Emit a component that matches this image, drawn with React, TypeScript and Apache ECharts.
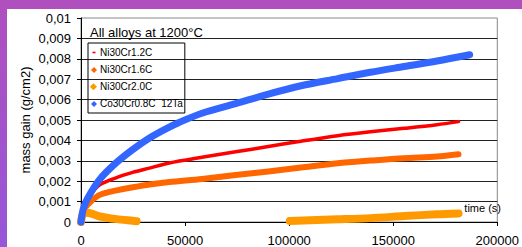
import React, { useEffect, useRef } from 'react';
import * as echarts from 'echarts';

const seriesNames = ['Ni30Cr1.2C', 'Ni30Cr1.6C', 'Ni30Cr2.0C', 'Co30Cr0.8C  12Ta'];
const seriesColors = ['#ff0000', '#ff6600', '#ff9900', '#3366ff'];

const redT = [0, 1500, 4300, 9000, 17100, 24800, 32900, 42400, 58100, 74300, 90000, 105700, 123300, 139000, 155200, 171000, 181400];
const redV = [0, 0.0008, 0.0013, 0.00182, 0.00218, 0.00243, 0.00264, 0.00289, 0.00317, 0.00344, 0.0037, 0.00396, 0.00423, 0.00442, 0.00459, 0.00477, 0.00492];

const orangeT = [0, 950, 4300, 9000, 17100, 24800, 32900, 42400, 58100, 74300, 90000, 105700, 123300, 139000, 155200, 171000, 181400];
const orangeV = [0, 0.00052, 0.00096, 0.00133, 0.00155, 0.0017, 0.00184, 0.00196, 0.00211, 0.0023, 0.00248, 0.00267, 0.00288, 0.00301, 0.00313, 0.00321, 0.00332];

const lightT = [0, 1000, 3000, 9000, 17100, 24800, 26700, 60000, 100300, 123300, 139000, 155200, 171000, 181400];
const lightV: (number | string)[] = [0, 0.0004, 0.00045, 0.00027, 0.00014, 0.00006, 0.00004, '-', 0.00005, 0.00013, 0.00019, 0.00029, 0.00038, 0.00042];

const blueT = [0, 1000, 2900, 9000, 17100, 24800, 32900, 41000, 47100, 58100, 74300, 90000, 105700, 123300, 139000, 155200, 171000, 186700];
const blueV = [0, 0.0006, 0.00111, 0.00209, 0.00292, 0.00355, 0.00412, 0.00458, 0.00488, 0.00533, 0.0058, 0.00627, 0.00668, 0.00703, 0.00734, 0.00762, 0.00789, 0.0082];

const lineWidths = [3.5, 6, 8, 7];
const legendIcons = [
  'path://M0,0M8,8M3.5,3.2h3v1.6h-3z',
  'path://M0,0M8,8M5,1.5L8,4.5L5,7.5L2,4.5z',
  'path://M0,0M8,8M5,0.5L9,4.5L5,8.5L1,4.5z',
  'path://M0,0M8,8M5,1.5L8,4.5L5,7.5L2,4.5z',
];

const xMin = 0, xMax = 200000, xStep = 50000;
const yMin = 0, yMax = 0.01, yStep = 0.001;

const FONT = 'Liberation Sans, Arial, sans-serif';

function pairs(t: number[], v: (number | string)[]) {
  return t.map((x, i) => [x, v[i]]);
}

export default function App() {
  const ref = useRef<HTMLDivElement>(null);
  useEffect(() => {
    const chart = echarts.init(ref.current!, null, { renderer: 'svg' });
    const data = [pairs(redT, redV), pairs(orangeT, orangeV), pairs(lightT, lightV), pairs(blueT, blueV)];
    chart.setOption({
      animation: false,
      backgroundColor: '#ffffff',
      textStyle: { fontFamily: FONT },
      title: {
        text: 'All alloys at 1200°C',
        left: 90,
        top: 26,
        padding: 0,
        textStyle: { fontSize: 13, fontWeight: 'normal', color: '#000', fontFamily: FONT },
      },
      legend: {
        left: 88,
        top: 43,
        orient: 'vertical',
        borderColor: '#000',
        borderWidth: 1,
        padding: [1, 2, 1, 1],
        itemGap: 0,
        itemWidth: 8,
        itemHeight: 8,
        textStyle: { fontSize: 10, color: '#000', fontFamily: FONT, lineHeight: 17, padding: [0, 0, 0, -2] },
        data: seriesNames.map((n, i) => ({ name: n, icon: legendIcons[i], itemStyle: { color: seriesColors[i] } })),
      },
      grid: {
        left: 81,
        top: 18,
        width: 421,
        height: 205,
        show: true,
        borderColor: '#888',
        borderWidth: 1,
        backgroundColor: 'transparent',
      },
      xAxis: {
        type: 'value',
        min: xMin,
        max: xMax,
        interval: xStep,
        axisLine: { lineStyle: { color: '#000', width: 1 } },
        axisTick: { show: true, length: 4, lineStyle: { color: '#000' } },
        axisLabel: { fontSize: 13, color: '#000', margin: 12, fontFamily: FONT, formatter: (v: number) => String(v) },
        splitLine: { show: false },
      },
      yAxis: {
        type: 'value',
        min: yMin,
        max: yMax,
        interval: yStep,
        name: 'mass gain (g/cm2)',
        nameLocation: 'middle',
        nameGap: 49,
        nameMoveOverlap: false,
        nameTextStyle: { fontSize: 13, color: '#000', fontFamily: FONT },
        axisLine: { show: true, lineStyle: { color: '#000', width: 1 } },
        axisTick: { show: true, length: 4, lineStyle: { color: '#000' } },
        axisLabel: {
          fontSize: 13,
          color: '#000',
          margin: 10,
          fontFamily: FONT,
          formatter: (v: number) => (v === 0 ? '0' : String(parseFloat(v.toFixed(3))).replace('.', ',')),
        },
        splitLine: { show: true, showMaxLine: false, lineStyle: { color: '#222', width: 1 } },
      },
      graphic: [
        { type: 'rect', left: 0, top: 0, shape: { width: 522, height: 9 }, style: { fill: '#b04fbe' }, z: 100 },
        {
          type: 'rect', left: 0, top: 0, shape: { width: 7, height: 247 }, z: 100,
          style: {
            fill: new echarts.graphic.LinearGradient(0, 0, 0, 1, [
              { offset: 0, color: '#b04fbe' },
              { offset: 1, color: '#9657d8' },
            ]),
          },
        },
        { type: 'text', right: 21, top: 202, style: { text: 'time (s)', font: '11px ' + FONT, fill: '#000' }, z: 50 },
      ],
      series: seriesNames.map((n, i) => ({
        name: n,
        type: 'line',
        data: data[i],
        showSymbol: false,
        symbol: 'none',
        smooth: 0.3,
        clip: false,
        connectNulls: false,
        color: seriesColors[i],
        lineStyle: { color: seriesColors[i], width: lineWidths[i], cap: 'round', join: 'round' },
      })),
    });
    return () => chart.dispose();
  }, []);
  return <div ref={ref} style={{ position: 'fixed', left: 0, top: 0, width: 522, height: 247 }} />;
}
